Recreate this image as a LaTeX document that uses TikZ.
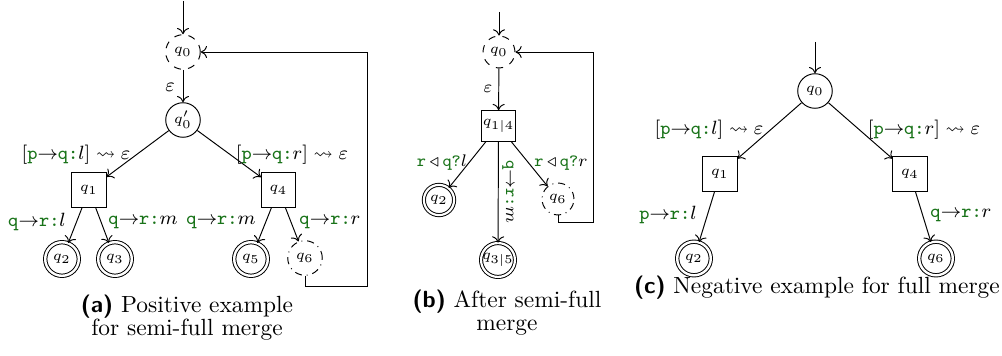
\documentclass[tikz,border=0pt]{standalone}
\usepackage{amssymb}
\usepackage{xcolor}
\usetikzlibrary{arrows.meta}
\definecolor{dgreen}{rgb}{0.1,0.45,0.1}
\newcommand{\gr}[1]{\textcolor{dgreen}{#1}}
\newcommand{\snd}[3]{\gr{\texttt{#1}}$\to$\gr{\texttt{#2:}}$#3$}
\newcommand{\rcv}[3]{\gr{\texttt{#1}}$\,\triangleleft\,$\gr{\texttt{#2?}}$#3$}
\begin{document}
\begin{tikzpicture}[x=0.41667pt,y=-0.41667pt,
  >={To[length=2.6pt,width=5pt]},
  st/.style={circle,draw,minimum size=14.4pt,inner sep=0pt,font=\fontsize{6.5}{7}\selectfont},
  stb/.style={circle,draw,minimum size=13.3pt,inner sep=0pt,font=\fontsize{6}{7}\selectfont},
  acc/.style={circle,draw,double,double distance=1pt,minimum size=14pt,inner sep=0pt,font=\fontsize{6.5}{7}\selectfont},
  accb/.style={circle,draw,double,double distance=0.9pt,minimum size=12.6pt,inner sep=0pt,font=\fontsize{6}{7}\selectfont},
  bx/.style={rectangle,draw,minimum size=14.2pt,inner sep=0pt,font=\fontsize{6.5}{7}\selectfont},
  bxb/.style={rectangle,draw,minimum size=12.8pt,inner sep=0.5pt,font=\fontsize{6}{7}\selectfont},
  lbl/.style={font=\footnotesize,inner sep=0pt},
  lblb/.style={font=\fontsize{7.2}{8}\selectfont,inner sep=0pt},
  capt/.style={font=\fontsize{9.75}{9.6}\selectfont,align=center,inner sep=0pt}]
\useasboundingbox (0,0) rectangle (1002,356);

% ---------- (a) ----------
\coordinate (ia) at (183,1);
\node[st,dashed] (q0a) at (183,52) {$q_0$};
\node[st] (q0pa) at (183,120) {$q_0'$};
\node[bx] (q1a) at (89,190) {$q_1$};
\node[bx] (q4a) at (278.5,190) {$q_4$};
\node[acc] (q2a) at (62,259) {$q_2$};
\node[acc] (q3a) at (115,259) {$q_3$};
\node[acc] (q5a) at (251,259) {$q_5$};
\node[st,dash dot] (q6a) at (305,258) {$q_6$};
\coordinate (la1) at (305,286);
\coordinate (la2) at (367,286);
\coordinate (la3) at (367,52);
\draw[->] (ia) -- (q0a);
\draw[->] (q0a) -- (q0pa);
\draw[->] (q0pa) -- (q1a);
\draw[->] (q0pa) -- (q4a);
\draw[->] (q1a) -- (q2a);
\draw[->] (q1a) -- (q3a);
\draw[->] (q4a) -- (q5a);
\draw[->] (q4a) -- (q6a);
\draw[->] (q6a.south) -- (la1) -- (la2) -- (la3) -- (q0a.east);
\node[lbl] (ea) at (170,87) {$\varepsilon$};
\node[lbl] (la) at (76,155) {$[$\snd{p}{q}{l}$]\rightsquigarrow\varepsilon$};
\node[lbl] (lb) at (292,155) {$[$\snd{p}{q}{r}$]\rightsquigarrow\varepsilon$};
\node[lbl] (lc) at (37,222) {\snd{q}{r}{l}};
\node[lbl] (ld) at (143,222) {\snd{q}{r}{m}};
\node[lbl] (le) at (221,222) {\snd{q}{r}{m}};
\node[lbl] (lf) at (330,222) {\snd{q}{r}{r}};
\node[capt] (capa) at (187,318) {\textsf{\textbf{(a)}} Positive example\\for semi-full merge};

% ---------- (b) ----------
\coordinate (ib) at (499,12);
\node[stb,dashed] (q0b) at (499,52) {$q_0$};
\node[bxb] (q14) at (498.5,126) {$q_{1|4}$};
\node[accb] (q2b) at (439,200) {$q_2$};
\node[stb,dash dot] (q6b) at (558,199) {$q_6$};
\node[accb,minimum size=14pt] (q35) at (498,260) {$q_{3|5}$};
\coordinate (lb1) at (558,222);
\coordinate (lb2) at (593,222);
\coordinate (lb3) at (593,52);
\draw[->] (ib) -- (q0b);
\draw[->] (q0b) -- (q14);
\draw[->] (q14) -- (q2b);
\draw[->] (q14) -- (q6b);
\draw[->] (q14) -- (q35);
\draw[->] (q6b.south) -- (lb1) -- (lb2) -- (lb3) -- (q0b.east);
\node[lblb] (eb) at (488,89) {$\varepsilon$};
\node[lblb] (lg) at (442,163) {\rcv{r}{q}{l}};
\node[lblb] (lh) at (561,163) {\rcv{r}{q}{r}};
\node[lblb,rotate=-90] (li) at (508,192) {\snd{q}{r}{m}};
\node[capt] (capb) at (507,313) {\textsf{\textbf{(b)}} After semi-full\\merge};

% ---------- (c) ----------
\coordinate (ic) at (815,42);
\node[st] (q0c) at (815,91) {$q_0$};
\node[bx] (q1c) at (720,174) {$q_1$};
\node[bx] (q4c) at (910,174) {$q_4$};
\node[acc] (q2c) at (694,258.5) {$q_2$};
\node[acc] (q6c) at (936,258.5) {$q_6$};
\draw[->] (ic) -- (q0c);
\draw[->] (q0c) -- (q1c);
\draw[->] (q0c) -- (q4c);
\draw[->] (q1c) -- (q2c);
\draw[->] (q4c) -- (q6c);
\node[lbl] (lj) at (709,130) {$[$\snd{p}{q}{l}$]\rightsquigarrow\varepsilon$};
\node[lbl] (lk) at (924,130) {$[$\snd{p}{q}{r}$]\rightsquigarrow\varepsilon$};
\node[lbl] (ll) at (668,215) {\snd{p}{r}{l}};
\node[lbl] (lm) at (961,215) {\snd{q}{r}{r}};
\node[capt] (capc) at (817,288) {\textsf{\textbf{(c)}} Negative example for full merge};
\end{tikzpicture}
\end{document}
